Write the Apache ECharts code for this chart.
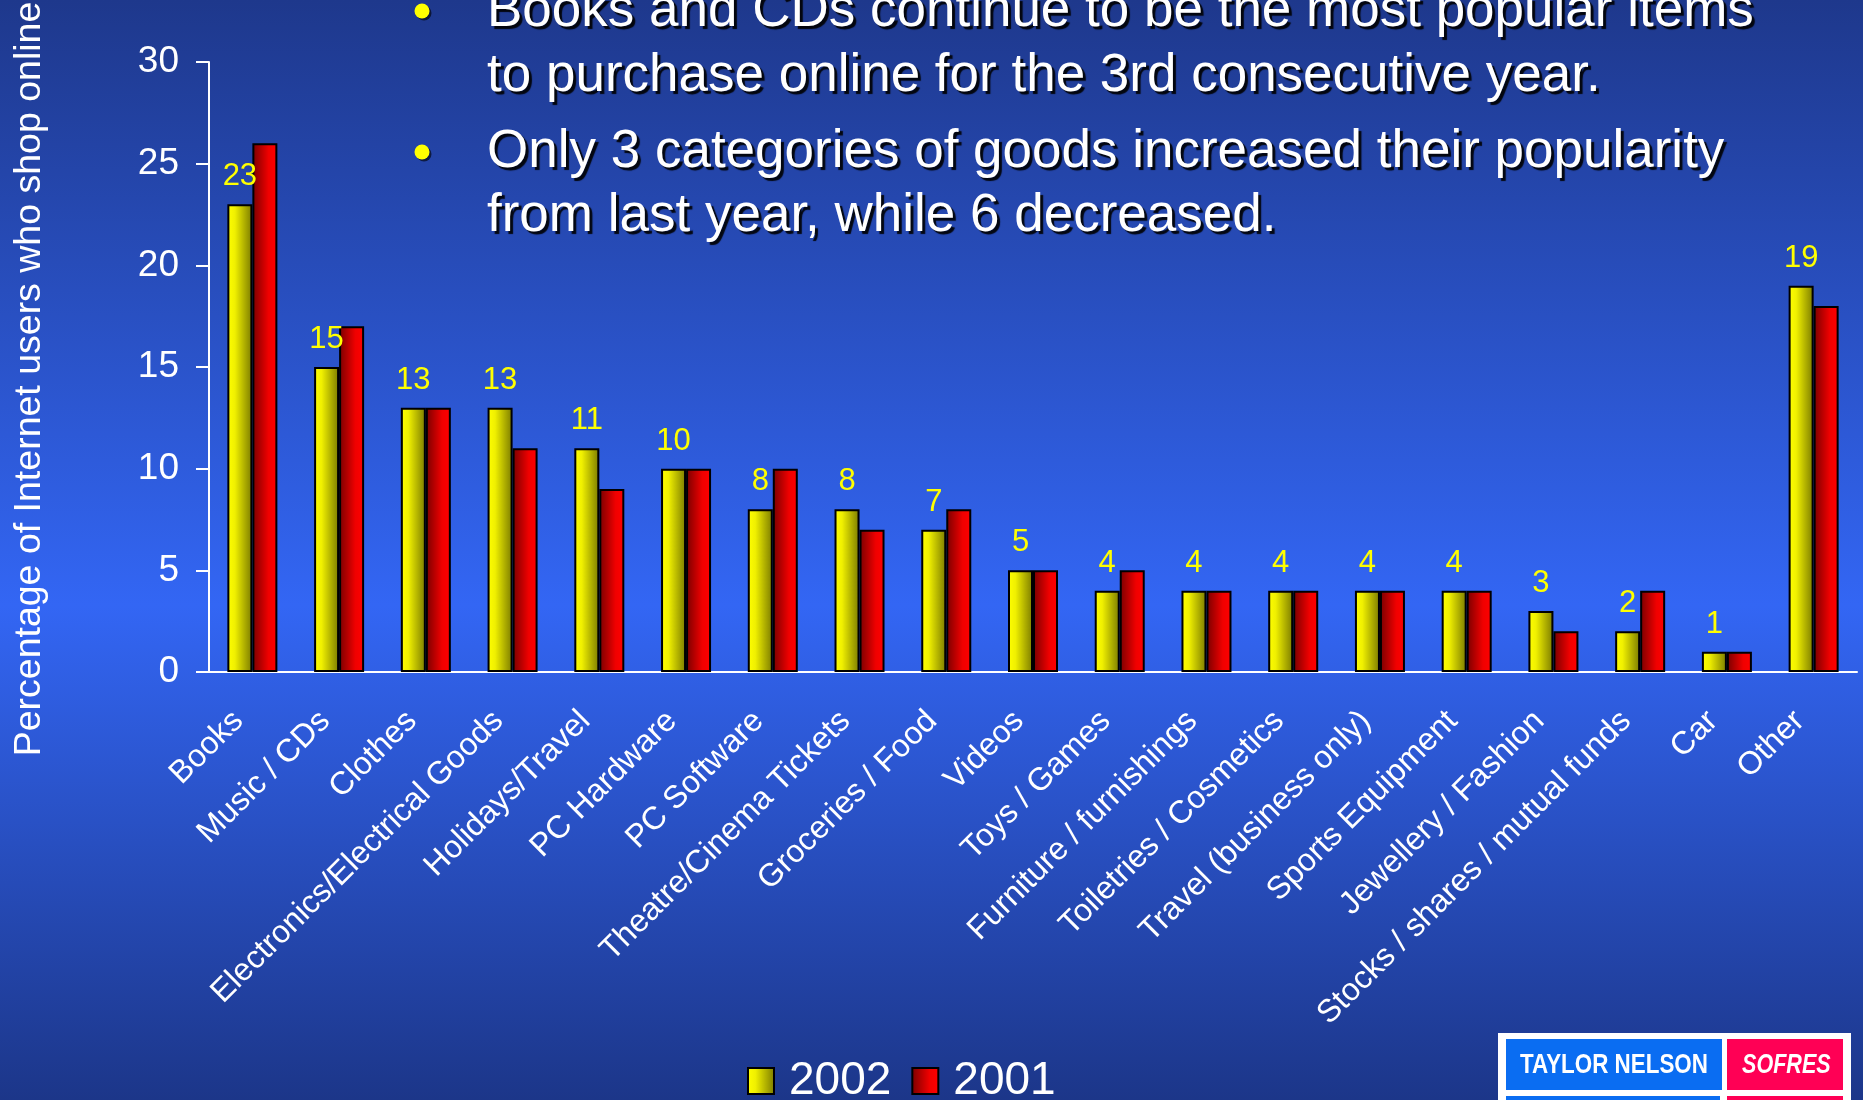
<!DOCTYPE html>
<html>
<head>
<meta charset="utf-8">
<script src="https://cdn.jsdelivr.net/npm/echarts@6/dist/echarts.min.js"></script>
<style>
html, body{margin:0;padding:0;width:100%;height:100%;overflow:hidden;}
#main{width:1863px;height:1100px;}
</style>
</head>
<body>
<div id="main"></div>
<script>
// categories and values
var categories = ['Books', 'Music / CDs', 'Clothes', 'Electronics/Electrical Goods', 'Holidays/Travel',
    'PC Hardware', 'PC Software', 'Theatre/Cinema Tickets', 'Groceries / Food', 'Videos', 'Toys / Games',
    'Furniture / furnishings', 'Toiletries / Cosmetics', 'Travel (business only)', 'Sports Equipment',
    'Jewellery / Fashion', 'Stocks / shares / mutual funds', 'Car', 'Other'];
var values2002 = [23, 15, 13, 13, 11, 10, 8, 8, 7, 5, 4, 4, 4, 4, 4, 3, 2, 1, 19];
var values2001 = [26, 17, 13, 11, 9, 10, 10, 7, 8, 5, 5, 4, 4, 4, 4, 2, 4, 1, 18];
var seriesNames = ['2002', '2001'];
var bulletLines = [
    ['Books and CDs continue to be the most popular items', 'to purchase online for the 3rd consecutive year.'],
    ['Only 3 categories of goods increased their popularity', 'from last year, while 6 decreased.']
];
var yAxisTitle = 'Percentage of Internet users who shop online';

var FONT = '"Liberation Sans", Arial, sans-serif';

var chart = echarts.init(document.getElementById('main'));

// bullet text at the top
var textEls = [];
var lineY = [[11, 76], [152, 216]];
for (var b = 0; b < bulletLines.length; b++) {
    textEls.push({
        type: 'circle',
        shape: {cx: 422, cy: lineY[b][0], r: 7.5},
        style: {fill: '#ffff00', shadowColor: 'rgba(0,0,0,0.6)', shadowOffsetX: 2, shadowOffsetY: 2}
    });
    for (var l = 0; l < bulletLines[b].length; l++) {
        textEls.push({
            type: 'text',
            x: 487,
            y: lineY[b][l],
            style: {
                text: bulletLines[b][l],
                font: '53px ' + FONT,
                fill: '#ffffff',
                verticalAlign: 'middle',
                shadowColor: 'rgba(0,0,0,0.9)',
                shadowBlur: 1,
                shadowOffsetX: 3,
                shadowOffsetY: 3,
                textShadowColor: 'rgba(0,0,0,0.9)',
                textShadowBlur: 1,
                textShadowOffsetX: 3,
                textShadowOffsetY: 3
            }
        });
    }
}

// rotated y axis title
textEls.push({
    type: 'text',
    x: 30,
    y: 379,
    rotation: Math.PI / 2,
    style: {text: yAxisTitle, font: '37.5px ' + FONT, fill: '#ffffff', align: 'center', verticalAlign: 'middle'}
});

// logo bottom right
textEls.push({
    type: 'group',
    children: [
        {type: 'rect', shape: {x: 1498, y: 1033, width: 353, height: 80}, style: {fill: '#ffffff'}},
        {type: 'rect', shape: {x: 1506, y: 1039, width: 216, height: 51}, style: {fill: '#0a6df2'}},
        {type: 'rect', shape: {x: 1727, y: 1039, width: 116, height: 51}, style: {fill: '#ff0055'}},
        {type: 'rect', shape: {x: 1506, y: 1096, width: 214, height: 10}, style: {fill: '#0a6df2'}},
        {type: 'rect', shape: {x: 1727, y: 1096, width: 116, height: 10}, style: {fill: '#ff0055'}},
        {type: 'text', x: 1520, y: 1065, scaleX: 0.8,
            style: {text: 'TAYLOR NELSON', font: '900 28px ' + FONT, fill: '#ffffff', verticalAlign: 'middle'}},
        {type: 'text', x: 1742, y: 1065, scaleX: 0.77,
            style: {text: 'SOFRES', font: 'italic 900 28px ' + FONT, fill: '#ffffff', verticalAlign: 'middle'}}
    ]
});

var yellowFill = new echarts.graphic.LinearGradient(0, 0, 1, 0, [
    {offset: 0, color: '#ffff00'},
    {offset: 0.3, color: '#f0f000'},
    {offset: 1, color: '#7a7a00'}
]);
var redFill = new echarts.graphic.LinearGradient(0, 0, 1, 0, [
    {offset: 0, color: '#780000'},
    {offset: 0.65, color: '#f00000'},
    {offset: 1, color: '#ff0000'}
]);

var option = {
    backgroundColor: new echarts.graphic.LinearGradient(0, 0, 0, 1, [
        {offset: 0, color: '#1e388c'},
        {offset: 0.55, color: '#3366f4'},
        {offset: 1, color: '#1c3689'}
    ]),
    animation: false,
    textStyle: {fontFamily: FONT},
    grid: {left: 209, top: 62, right: 6, bottom: 428},
    legend: {
        data: seriesNames,
        left: 747,
        top: 1058,
        padding: 0,
        icon: 'rect',
        itemWidth: 26,
        itemHeight: 26,
        itemGap: 20,
        textStyle: {color: '#ffffff', fontSize: 46, fontFamily: FONT, padding: [0, 0, 0, 10]}
    },
    xAxis: {
        type: 'category',
        data: categories,
        axisLine: {lineStyle: {color: '#ffffff', width: 2}},
        axisTick: {lineStyle: {color: '#ffffff', width: 2}, length: 10},
        axisLabel: {color: '#ffffff', fontSize: 32, rotate: 45, margin: 30, interval: 0, padding: [0, 20, 0, 0]}
    },
    yAxis: {
        type: 'value',
        min: 0,
        max: 30,
        interval: 5,
        axisLine: {show: true, lineStyle: {color: '#ffffff', width: 2}},
        axisTick: {show: true, length: 13, lineStyle: {color: '#ffffff', width: 2}},
        axisLabel: {color: '#ffffff', fontSize: 37, margin: 30},
        splitLine: {show: false}
    },
    series: [
        {
            name: seriesNames[0],
            type: 'bar',
            data: values2002,
            barWidth: 25,
            barGap: '0%',
            itemStyle: {color: yellowFill, borderColor: '#000000', borderWidth: 2},
            label: {show: true, position: 'top', color: '#ffff00', fontSize: 31, distance: 12}
        },
        {
            name: seriesNames[1],
            type: 'bar',
            data: values2001,
            barWidth: 25,
            barGap: '0%',
            itemStyle: {color: redFill, borderColor: '#000000', borderWidth: 2}
        }
    ],
    graphic: textEls
};

chart.setOption(option);
</script>
</body>
</html>
